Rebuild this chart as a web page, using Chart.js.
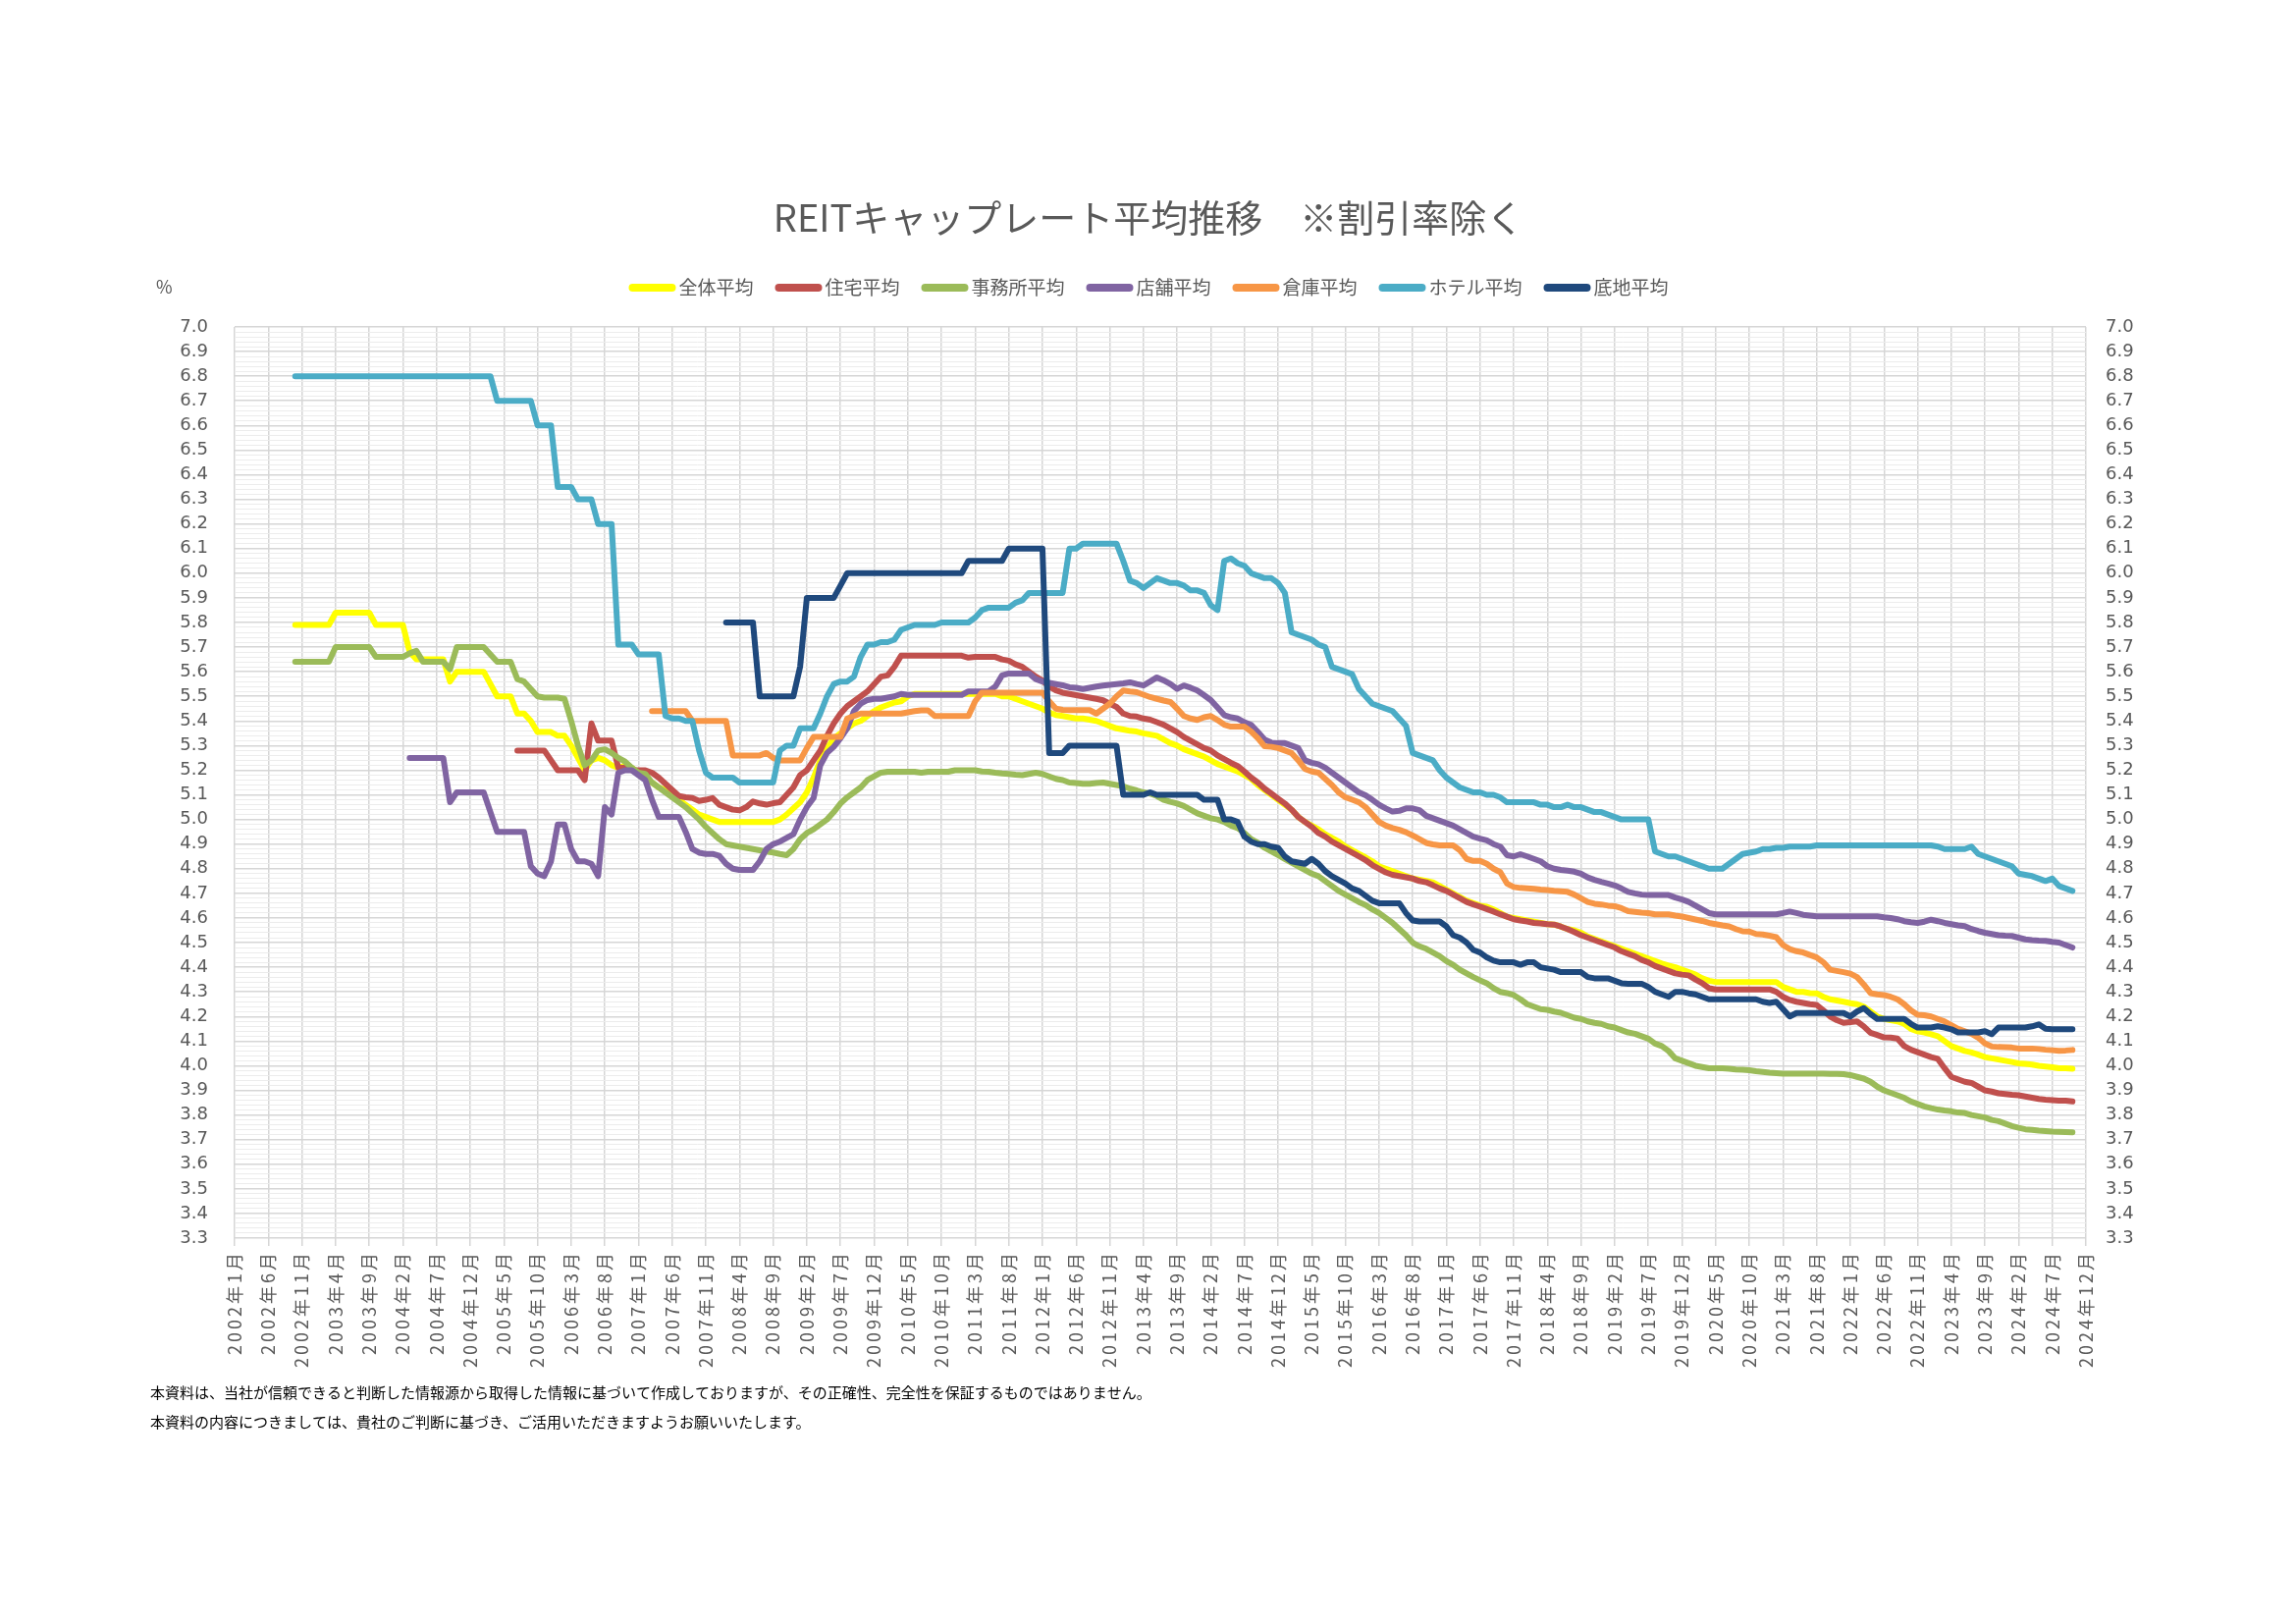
<!DOCTYPE html>
<html lang="ja">
<head>
<meta charset="utf-8">
<title>REITキャップレート平均推移</title>
<script src="https://cdn.jsdelivr.net/npm/chart.js@4.4.1/dist/chart.umd.min.js"></script>
<style>
  html, body { margin: 0; padding: 0; background: #fff; }
  #wrap { width: 2339px; height: 1653px; }
</style>
</head>
<body>
<div id="wrap"><canvas id="capChart" width="2339" height="1653"></canvas></div>
<script>
// months on the x axis: 2002年1月 .. 2024年12月
const firstYear = 2002;
const lastYear = 2024;
const months = [];
for (let y = firstYear; y <= lastYear; y++) {
    for (let m = 1; m <= 12; m++) {
        months.push(y + '年' + m + '月');
    }
}

const seriesNames = ['全体平均', '住宅平均', '事務所平均', '店舗平均', '倉庫平均', 'ホテル平均', '底地平均'];
const seriesColors = ['#FFFF00', '#C0504D', '#9BBB59', '#8064A2', '#F79646', '#4BACC6', '#1F497D'];

// one row per year, Jan..Dec
const allAvg = [
    null, null, null, null, null, null, null, null, null, 5.79, 5.79, 5.79,
    5.79, 5.79, 5.79, 5.84, 5.84, 5.84, 5.84, 5.84, 5.84, 5.79, 5.79, 5.79,
    5.79, 5.79, 5.68, 5.65, 5.65, 5.65, 5.65, 5.65, 5.56, 5.60, 5.60, 5.60,
    5.60, 5.60, 5.55, 5.50, 5.50, 5.50, 5.43, 5.43, 5.40, 5.355, 5.355, 5.355,
    5.34, 5.34, 5.30, 5.25, 5.20, 5.24, 5.25, 5.24, 5.22, 5.21, 5.22, 5.21,
    5.19, 5.17, 5.15, 5.13, 5.12, 5.10, 5.08, 5.06, 5.04, 5.02, 5.01, 5.00,
    4.99, 4.99, 4.99, 4.99, 4.99, 4.99, 4.99, 4.99, 4.99, 5.00, 5.02, 5.045,
    5.07, 5.11, 5.17, 5.24, 5.29, 5.33, 5.35, 5.37, 5.39, 5.40, 5.42, 5.44,
    5.455, 5.465, 5.475, 5.48, 5.50, 5.51, 5.51, 5.51, 5.51, 5.51, 5.51, 5.51,
    5.51, 5.51, 5.51, 5.51, 5.51, 5.51, 5.50, 5.50, 5.49, 5.48, 5.47, 5.46,
    5.45, 5.435, 5.424, 5.42, 5.415, 5.41, 5.41, 5.405, 5.40, 5.39, 5.38, 5.37,
    5.365, 5.36, 5.357, 5.35, 5.345, 5.34, 5.325, 5.31, 5.30, 5.285, 5.275, 5.265,
    5.255, 5.24, 5.225, 5.215, 5.205, 5.195, 5.18, 5.165, 5.14, 5.12, 5.10, 5.08,
    5.06, 5.04, 5.01, 4.99, 4.975, 4.96, 4.94, 4.925, 4.91, 4.89, 4.875, 4.86,
    4.846, 4.83, 4.81, 4.80, 4.79, 4.78, 4.77, 4.76, 4.755, 4.75, 4.745, 4.73,
    4.715, 4.70, 4.685, 4.67, 4.66, 4.65, 4.646, 4.635, 4.62, 4.605, 4.60, 4.595,
    4.59, 4.585, 4.58, 4.575, 4.573, 4.565, 4.555, 4.55, 4.54, 4.525, 4.515, 4.505,
    4.495, 4.485, 4.475, 4.465, 4.455, 4.445, 4.435, 4.425, 4.415, 4.407, 4.40, 4.39,
    4.38, 4.37, 4.355, 4.345, 4.34, 4.34, 4.34, 4.34, 4.34, 4.34, 4.34, 4.34,
    4.34, 4.34, 4.32, 4.31, 4.30, 4.30, 4.295, 4.294, 4.28, 4.27, 4.265, 4.26,
    4.254, 4.25, 4.24, 4.22, 4.20, 4.19, 4.185, 4.18, 4.17, 4.15, 4.14, 4.135,
    4.128, 4.12, 4.10, 4.08, 4.07, 4.06, 4.054, 4.045, 4.035, 4.03, 4.025, 4.02,
    4.015, 4.01, 4.008, 4.005, 4.00, 3.997, 3.994, 3.99, 3.99, 3.988, null, null
];

const residential = [
    null, null, null, null, null, null, null, null, null, null, null, null,
    null, null, null, null, null, null, null, null, null, null, null, null,
    null, null, null, null, null, null, null, null, null, null, null, null,
    null, null, null, null, null, null, 5.28, 5.28, 5.28, 5.28, 5.28, 5.24,
    5.20, 5.20, 5.20, 5.20, 5.16, 5.39, 5.32, 5.32, 5.32, 5.21, 5.21, 5.20,
    5.20, 5.20, 5.19, 5.17, 5.145, 5.12, 5.095, 5.09, 5.087, 5.075, 5.08, 5.087,
    5.06, 5.05, 5.04, 5.037, 5.05, 5.073, 5.065, 5.06, 5.066, 5.07, 5.10, 5.13,
    5.18, 5.20, 5.24, 5.28, 5.34, 5.39, 5.43, 5.46, 5.48, 5.50, 5.52, 5.55,
    5.58, 5.585, 5.62, 5.665, 5.665, 5.665, 5.665, 5.665, 5.665, 5.665, 5.665, 5.665,
    5.665, 5.657, 5.66, 5.66, 5.66, 5.66, 5.65, 5.645, 5.63, 5.62, 5.60, 5.58,
    5.564, 5.54, 5.524, 5.515, 5.51, 5.505, 5.50, 5.495, 5.49, 5.484, 5.47, 5.457,
    5.43, 5.42, 5.418, 5.41, 5.405, 5.395, 5.385, 5.37, 5.355, 5.335, 5.32, 5.305,
    5.29, 5.28, 5.26, 5.245, 5.23, 5.217, 5.195, 5.17, 5.15, 5.125, 5.105, 5.085,
    5.065, 5.04, 5.01, 4.99, 4.97, 4.945, 4.93, 4.91, 4.895, 4.88, 4.865, 4.85,
    4.835, 4.815, 4.80, 4.785, 4.775, 4.77, 4.765, 4.76, 4.75, 4.745, 4.733, 4.72,
    4.71, 4.695, 4.68, 4.665, 4.655, 4.646, 4.636, 4.626, 4.615, 4.605, 4.595, 4.59,
    4.586, 4.58, 4.578, 4.575, 4.573, 4.565, 4.555, 4.543, 4.53, 4.52, 4.51, 4.50,
    4.49, 4.48, 4.465, 4.455, 4.445, 4.43, 4.42, 4.405, 4.395, 4.385, 4.375, 4.37,
    4.367, 4.35, 4.335, 4.315, 4.31, 4.31, 4.31, 4.31, 4.31, 4.31, 4.31, 4.31,
    4.31, 4.30, 4.28, 4.267, 4.26, 4.255, 4.25, 4.247, 4.225, 4.20, 4.185, 4.174,
    4.177, 4.18, 4.16, 4.134, 4.125, 4.115, 4.114, 4.11, 4.08, 4.065, 4.055, 4.045,
    4.035, 4.028, 3.99, 3.955, 3.945, 3.935, 3.93, 3.915, 3.90, 3.895, 3.888, 3.885,
    3.882, 3.88, 3.875, 3.87, 3.865, 3.862, 3.86, 3.858, 3.858, 3.855, null, null
];

const office = [
    null, null, null, null, null, null, null, null, null, 5.64, 5.64, 5.64,
    5.64, 5.64, 5.64, 5.70, 5.70, 5.70, 5.70, 5.70, 5.70, 5.66, 5.66, 5.66,
    5.66, 5.66, 5.675, 5.685, 5.64, 5.64, 5.64, 5.64, 5.61, 5.70, 5.70, 5.70,
    5.70, 5.70, 5.67, 5.64, 5.64, 5.64, 5.57, 5.56, 5.53, 5.50, 5.495, 5.495,
    5.495, 5.49, 5.40, 5.30, 5.22, 5.24, 5.28, 5.285, 5.27, 5.25, 5.235, 5.21,
    5.19, 5.185, 5.15, 5.13, 5.11, 5.09, 5.07, 5.05, 5.025, 5.00, 4.97, 4.945,
    4.92, 4.90, 4.895, 4.89, 4.885, 4.88, 4.875, 4.87, 4.866, 4.86, 4.855, 4.88,
    4.92, 4.945, 4.96, 4.98, 5.00, 5.03, 5.065, 5.09, 5.11, 5.13, 5.16, 5.175,
    5.19, 5.194, 5.194, 5.194, 5.194, 5.194, 5.19, 5.194, 5.194, 5.194, 5.194, 5.20,
    5.20, 5.20, 5.20, 5.195, 5.194, 5.19, 5.187, 5.185, 5.182, 5.18, 5.185, 5.19,
    5.185, 5.175, 5.165, 5.16, 5.15, 5.148, 5.145, 5.145, 5.148, 5.15, 5.145, 5.14,
    5.135, 5.125, 5.118, 5.11, 5.105, 5.095, 5.08, 5.072, 5.065, 5.055, 5.04, 5.025,
    5.015, 5.005, 5.00, 4.99, 4.975, 4.965, 4.945, 4.92, 4.905, 4.885, 4.87, 4.855,
    4.84, 4.825, 4.81, 4.795, 4.78, 4.77, 4.75, 4.73, 4.71, 4.695, 4.68, 4.665,
    4.653, 4.635, 4.62, 4.60, 4.58, 4.555, 4.53, 4.50, 4.485, 4.475, 4.46, 4.445,
    4.425, 4.41, 4.39, 4.375, 4.36, 4.347, 4.335, 4.315, 4.30, 4.295, 4.287, 4.27,
    4.25, 4.24, 4.23, 4.227, 4.22, 4.215, 4.205, 4.195, 4.19, 4.18, 4.174, 4.17,
    4.16, 4.155, 4.145, 4.135, 4.13, 4.12, 4.11, 4.09, 4.08, 4.06, 4.03, 4.02,
    4.01, 4.00, 3.995, 3.99, 3.99, 3.99, 3.988, 3.985, 3.984, 3.982, 3.978, 3.975,
    3.972, 3.97, 3.968, 3.968, 3.968, 3.968, 3.968, 3.968, 3.968, 3.967, 3.967, 3.966,
    3.962, 3.955, 3.948, 3.935, 3.915, 3.90, 3.89, 3.88, 3.87, 3.855, 3.845, 3.835,
    3.828, 3.822, 3.818, 3.815, 3.81, 3.808, 3.80, 3.795, 3.79, 3.78, 3.775, 3.765,
    3.755, 3.748, 3.742, 3.74, 3.737, 3.735, 3.733, 3.732, 3.731, 3.73, null, null
];

const retail = [
    null, null, null, null, null, null, null, null, null, null, null, null,
    null, null, null, null, null, null, null, null, null, null, null, null,
    null, null, 5.25, 5.25, 5.25, 5.25, 5.25, 5.25, 5.07, 5.11, 5.11, 5.11,
    5.11, 5.11, 5.03, 4.95, 4.95, 4.95, 4.95, 4.95, 4.81, 4.78, 4.77, 4.83,
    4.98, 4.98, 4.88, 4.83, 4.83, 4.82, 4.77, 5.05, 5.02, 5.19, 5.20, 5.20,
    5.18, 5.16, 5.08, 5.01, 5.01, 5.01, 5.01, 4.95, 4.88, 4.865, 4.86, 4.86,
    4.852, 4.82, 4.80, 4.795, 4.795, 4.795, 4.83, 4.88, 4.90, 4.91, 4.925, 4.94,
    5.00, 5.05, 5.087, 5.22, 5.27, 5.295, 5.33, 5.37, 5.44, 5.47, 5.485, 5.49,
    5.49, 5.495, 5.50, 5.51, 5.506, 5.506, 5.506, 5.506, 5.506, 5.506, 5.506, 5.506,
    5.506, 5.52, 5.52, 5.52, 5.52, 5.54, 5.585, 5.593, 5.593, 5.593, 5.593, 5.57,
    5.56, 5.555, 5.55, 5.545, 5.537, 5.535, 5.53, 5.535, 5.54, 5.544, 5.547, 5.55,
    5.553, 5.557, 5.55, 5.544, 5.56, 5.577, 5.565, 5.55, 5.53, 5.544, 5.535, 5.524,
    5.505, 5.485, 5.455, 5.424, 5.415, 5.41, 5.395, 5.384, 5.355, 5.324, 5.312, 5.31,
    5.31, 5.30, 5.29, 5.24, 5.23, 5.224, 5.21, 5.19, 5.17, 5.15, 5.13, 5.11,
    5.098, 5.08, 5.06, 5.045, 5.032, 5.035, 5.045, 5.045, 5.038, 5.015, 5.005, 4.995,
    4.985, 4.975, 4.96, 4.945, 4.93, 4.922, 4.915, 4.90, 4.89, 4.855, 4.85, 4.859,
    4.85, 4.84, 4.83, 4.81, 4.80, 4.795, 4.792, 4.788, 4.78, 4.765, 4.755, 4.747,
    4.74, 4.732, 4.72, 4.706, 4.70, 4.695, 4.693, 4.693, 4.693, 4.693, 4.683, 4.675,
    4.665, 4.65, 4.635, 4.62, 4.615, 4.615, 4.615, 4.615, 4.615, 4.615, 4.615, 4.615,
    4.615, 4.615, 4.62, 4.626, 4.62, 4.613, 4.61, 4.607, 4.607, 4.607, 4.607, 4.607,
    4.607, 4.607, 4.607, 4.607, 4.607, 4.603, 4.60, 4.595, 4.587, 4.583, 4.58, 4.585,
    4.593, 4.587, 4.58, 4.575, 4.57, 4.567, 4.555, 4.547, 4.54, 4.535, 4.53, 4.528,
    4.527, 4.52, 4.513, 4.51, 4.508, 4.507, 4.503, 4.50, 4.49, 4.48, null, null
];

const logistics = [
    null, null, null, null, null, null, null, null, null, null, null, null,
    null, null, null, null, null, null, null, null, null, null, null, null,
    null, null, null, null, null, null, null, null, null, null, null, null,
    null, null, null, null, null, null, null, null, null, null, null, null,
    null, null, null, null, null, null, null, null, null, null, null, null,
    null, null, 5.44, 5.44, 5.44, 5.44, 5.44, 5.44, 5.40, 5.40, 5.40, 5.40,
    5.40, 5.40, 5.26, 5.26, 5.26, 5.26, 5.26, 5.27, 5.25, 5.24, 5.24, 5.24,
    5.24, 5.29, 5.335, 5.335, 5.335, 5.335, 5.335, 5.41, 5.42, 5.43, 5.43, 5.43,
    5.43, 5.43, 5.43, 5.43, 5.435, 5.44, 5.443, 5.443, 5.42, 5.42, 5.42, 5.42,
    5.42, 5.42, 5.48, 5.515, 5.515, 5.515, 5.515, 5.515, 5.515, 5.515, 5.515, 5.515,
    5.515, 5.48, 5.45, 5.445, 5.444, 5.444, 5.444, 5.444, 5.43, 5.45, 5.47, 5.50,
    5.524, 5.52, 5.517, 5.507, 5.497, 5.49, 5.483, 5.477, 5.45, 5.42, 5.41, 5.404,
    5.415, 5.42, 5.404, 5.385, 5.377, 5.377, 5.377, 5.357, 5.33, 5.297, 5.295, 5.29,
    5.28, 5.27, 5.24, 5.205, 5.195, 5.19, 5.165, 5.14, 5.11, 5.09, 5.08, 5.07,
    5.05, 5.02, 4.99, 4.975, 4.965, 4.958, 4.948, 4.935, 4.92, 4.905, 4.899, 4.895,
    4.895, 4.895, 4.875, 4.84, 4.832, 4.832, 4.82, 4.80, 4.786, 4.74, 4.726, 4.722,
    4.72, 4.718, 4.715, 4.713, 4.71, 4.708, 4.706, 4.695, 4.68, 4.665, 4.658, 4.655,
    4.65, 4.648, 4.64, 4.628, 4.625, 4.622, 4.62, 4.615, 4.615, 4.615, 4.61, 4.606,
    4.60, 4.594, 4.588, 4.58, 4.575, 4.57, 4.566, 4.555, 4.546, 4.545, 4.535, 4.533,
    4.528, 4.522, 4.49, 4.474, 4.465, 4.46, 4.45, 4.44, 4.42, 4.39, 4.385, 4.38,
    4.374, 4.36, 4.33, 4.295, 4.29, 4.287, 4.28, 4.27, 4.25, 4.225, 4.207, 4.205,
    4.20, 4.19, 4.18, 4.165, 4.15, 4.14, 4.13, 4.114, 4.09, 4.078, 4.076, 4.075,
    4.074, 4.07, 4.07, 4.07, 4.068, 4.065, 4.063, 4.061, 4.062, 4.064, null, null
];

const hotel = [
    null, null, null, null, null, null, null, null, null, 6.80, 6.80, 6.80,
    6.80, 6.80, 6.80, 6.80, 6.80, 6.80, 6.80, 6.80, 6.80, 6.80, 6.80, 6.80,
    6.80, 6.80, 6.80, 6.80, 6.80, 6.80, 6.80, 6.80, 6.80, 6.80, 6.80, 6.80,
    6.80, 6.80, 6.80, 6.70, 6.70, 6.70, 6.70, 6.70, 6.70, 6.60, 6.60, 6.60,
    6.35, 6.35, 6.35, 6.30, 6.30, 6.30, 6.20, 6.20, 6.20, 5.71, 5.71, 5.71,
    5.67, 5.67, 5.67, 5.67, 5.42, 5.41, 5.41, 5.40, 5.40, 5.28, 5.19, 5.17,
    5.17, 5.17, 5.17, 5.15, 5.15, 5.15, 5.15, 5.15, 5.15, 5.28, 5.30, 5.30,
    5.37, 5.37, 5.37, 5.43, 5.50, 5.55, 5.56, 5.56, 5.58, 5.66, 5.71, 5.71,
    5.72, 5.72, 5.73, 5.77, 5.78, 5.79, 5.79, 5.79, 5.79, 5.80, 5.80, 5.80,
    5.80, 5.80, 5.82, 5.85, 5.86, 5.86, 5.86, 5.86, 5.88, 5.89, 5.92, 5.92,
    5.92, 5.92, 5.92, 5.92, 6.10, 6.10, 6.12, 6.12, 6.12, 6.12, 6.12, 6.12,
    6.05, 5.97, 5.96, 5.94, 5.96, 5.98, 5.97, 5.96, 5.96, 5.95, 5.93, 5.93,
    5.92, 5.87, 5.85, 6.05, 6.06, 6.04, 6.03, 6.00, 5.99, 5.98, 5.98, 5.96,
    5.92, 5.76, 5.75, 5.74, 5.73, 5.71, 5.70, 5.62, 5.61, 5.60, 5.59, 5.53,
    5.50, 5.47, 5.46, 5.45, 5.44, 5.41, 5.38, 5.27, 5.26, 5.25, 5.24, 5.20,
    5.17, 5.15, 5.13, 5.12, 5.11, 5.11, 5.10, 5.10, 5.09, 5.07, 5.07, 5.07,
    5.07, 5.07, 5.06, 5.06, 5.05, 5.05, 5.06, 5.05, 5.05, 5.04, 5.03, 5.03,
    5.02, 5.01, 5.00, 5.00, 5.00, 5.00, 5.00, 4.87, 4.86, 4.85, 4.85, 4.84,
    4.83, 4.82, 4.81, 4.80, 4.80, 4.80, 4.82, 4.84, 4.86, 4.865, 4.87, 4.88,
    4.88, 4.885, 4.885, 4.89, 4.89, 4.89, 4.89, 4.895, 4.895, 4.895, 4.895, 4.895,
    4.895, 4.895, 4.895, 4.895, 4.895, 4.895, 4.895, 4.895, 4.895, 4.895, 4.895, 4.895,
    4.895, 4.89, 4.88, 4.88, 4.88, 4.88, 4.89, 4.86, 4.85, 4.84, 4.83, 4.82,
    4.81, 4.78, 4.775, 4.77, 4.76, 4.75, 4.76, 4.73, 4.72, 4.71, null, null
];

const leasehold = [
    null, null, null, null, null, null, null, null, null, null, null, null,
    null, null, null, null, null, null, null, null, null, null, null, null,
    null, null, null, null, null, null, null, null, null, null, null, null,
    null, null, null, null, null, null, null, null, null, null, null, null,
    null, null, null, null, null, null, null, null, null, null, null, null,
    null, null, null, null, null, null, null, null, null, null, null, null,
    null, 5.80, 5.80, 5.80, 5.80, 5.80, 5.50, 5.50, 5.50, 5.50, 5.50, 5.50,
    5.62, 5.90, 5.90, 5.90, 5.90, 5.90, 5.95, 6.00, 6.00, 6.00, 6.00, 6.00,
    6.00, 6.00, 6.00, 6.00, 6.00, 6.00, 6.00, 6.00, 6.00, 6.00, 6.00, 6.00,
    6.00, 6.05, 6.05, 6.05, 6.05, 6.05, 6.05, 6.10, 6.10, 6.10, 6.10, 6.10,
    6.10, 5.27, 5.27, 5.27, 5.30, 5.30, 5.30, 5.30, 5.30, 5.30, 5.30, 5.30,
    5.10, 5.10, 5.10, 5.10, 5.11, 5.10, 5.10, 5.10, 5.10, 5.10, 5.10, 5.10,
    5.08, 5.08, 5.08, 5.00, 5.00, 4.99, 4.93, 4.91, 4.90, 4.90, 4.89, 4.885,
    4.85, 4.83, 4.825, 4.82, 4.84, 4.82, 4.79, 4.77, 4.755, 4.74, 4.72, 4.71,
    4.69, 4.67, 4.66, 4.66, 4.66, 4.66, 4.62, 4.59, 4.586, 4.586, 4.586, 4.586,
    4.566, 4.53, 4.52, 4.50, 4.47, 4.46, 4.44, 4.427, 4.42, 4.42, 4.42, 4.41,
    4.42, 4.42, 4.40, 4.395, 4.39, 4.38, 4.38, 4.38, 4.38, 4.36, 4.355, 4.355,
    4.355, 4.345, 4.335, 4.333, 4.333, 4.333, 4.32, 4.30, 4.29, 4.28, 4.30, 4.30,
    4.294, 4.29, 4.28, 4.27, 4.27, 4.27, 4.27, 4.27, 4.27, 4.27, 4.27, 4.26,
    4.255, 4.26, 4.23, 4.20, 4.214, 4.214, 4.214, 4.214, 4.214, 4.214, 4.214, 4.214,
    4.20, 4.22, 4.234, 4.21, 4.19, 4.19, 4.19, 4.19, 4.19, 4.17, 4.155, 4.155,
    4.155, 4.16, 4.155, 4.148, 4.135, 4.135, 4.135, 4.135, 4.14, 4.128, 4.155, 4.155,
    4.155, 4.155, 4.155, 4.16, 4.168, 4.15, 4.148, 4.148, 4.148, 4.148, null, null
];

const seriesData = [allAvg, residential, office, retail, logistics, hotel, leasehold];

// y axis: 3.3 .. 7.0, labelled every 0.1, light lines every 0.02
const yMin = 3.3;
const yMax = 7.0;
const yMinorStep = 0.02;

const titleText = 'REITキャップレート平均推移　※割引率除く';
const notes = [
    '本資料は、当社が信頼できると判断した情報源から取得した情報に基づいて作成しておりますが、その正確性、完全性を保証するものではありません。',
    '本資料の内容につきましては、貴社のご判断に基づき、ご活用いただきますようお願いいたします。'
];

const jpFont = '"Noto Sans CJK JP", "Noto Sans", sans-serif';
const textGray = '#595959';

function isMajor(v) {
    return Math.abs(v * 10 - Math.round(v * 10)) < 1e-6;
}

// the month labels are spaced out a little; the y labels are drawn after
// the datasets (ticks.z = 1) so the spacing is switched off before them
const labelSpacing = {
    id: 'labelSpacing',
    beforeDraw(chart) {
        chart.ctx.letterSpacing = '3px';
    },
    beforeDatasetsDraw(chart) {
        chart.ctx.letterSpacing = '0px';
    }
};

// title, legend, unit and footnotes
const pageText = {
    id: 'pageText',
    beforeDraw(chart) {
        const ctx = chart.ctx;
        ctx.save();
        ctx.fillStyle = '#ffffff';
        ctx.fillRect(0, 0, chart.width, chart.height);
        ctx.restore();
    },
    afterDraw(chart) {
        const ctx = chart.ctx;
        ctx.save();
        ctx.letterSpacing = '0px';

        ctx.fillStyle = textGray;
        ctx.textBaseline = 'middle';
        ctx.textAlign = 'center';
        ctx.font = '38px ' + jpFont;
        ctx.fillText(titleText, 1170, 222);

        ctx.textAlign = 'left';
        ctx.font = '18px ' + jpFont;
        ctx.fillText('%', 159, 292);

        // legend
        ctx.font = '19px ' + jpFont;
        const sampleLen = 48;
        const itemGap = 22;
        let total = 0;
        const widths = seriesNames.map(function(name) {
            const w = sampleLen + 3 + ctx.measureText(name).width;
            total += w;
            return w;
        });
        total += itemGap * (seriesNames.length - 1);
        let x = 1170 - total / 2;
        const ly = 293;
        seriesNames.forEach(function(name, i) {
            ctx.strokeStyle = seriesColors[i];
            ctx.lineWidth = 8;
            ctx.lineCap = 'round';
            ctx.beginPath();
            ctx.moveTo(x + 4, ly);
            ctx.lineTo(x + sampleLen - 4, ly);
            ctx.stroke();
            ctx.fillStyle = textGray;
            ctx.fillText(name, x + sampleLen + 3, ly);
            x += widths[i] + itemGap;
        });

        ctx.fillStyle = '#000000';
        ctx.font = '15px ' + jpFont;
        ctx.fillText(notes[0], 153, 1418);
        ctx.fillText(notes[1], 153, 1448);

        ctx.restore();
    }
};

const yTicks = {
    stepSize: yMinorStep,
    autoSkip: false,
    z: 1,
    color: textGray,
    font: { family: '"DejaVu Sans", sans-serif', size: 18 },
    callback: function(value) {
        return isMajor(value) ? value.toFixed(1) : '';
    }
};

const ctx = document.getElementById('capChart').getContext('2d');
new Chart(ctx, {
    type: 'line',
    data: {
        labels: months,
        datasets: seriesData.map(function(values, i) {
            return {
                label: seriesNames[i],
                data: values,
                borderColor: seriesColors[i],
                backgroundColor: seriesColors[i],
                borderWidth: 6,
                borderCapStyle: 'round',
                borderJoinStyle: 'round',
                pointRadius: 0,
                tension: 0,
                fill: false,
                order: seriesData.length - i,
                yAxisID: 'y'
            };
        })
    },
    options: {
        responsive: false,
        animation: false,
        devicePixelRatio: 1,
        layout: {
            padding: { top: 333, bottom: 242, left: 0, right: 0 }
        },
        plugins: {
            legend: { display: false },
            title: { display: false },
            tooltip: { enabled: false }
        },
        scales: {
            x: {
                type: 'category',
                offset: false,
                afterFit: function(scale) { scale.height = 150; },
                border: { display: false },
                grid: {
                    drawTicks: true,
                    tickLength: 8,
                    lineWidth: 1.5,
                    color: function(c) { return c.index % 5 === 0 ? '#d6d6d6' : 'rgba(0,0,0,0)'; },
                    tickColor: function(c) { return c.index % 5 === 0 ? '#d6d6d6' : 'rgba(0,0,0,0)'; }
                },
                ticks: {
                    autoSkip: false,
                    minRotation: 90,
                    maxRotation: 90,
                    padding: 4,
                    color: textGray,
                    font: { family: jpFont, size: 18 },
                    callback: function(value, index) {
                        return index % 5 === 0 ? this.getLabelForValue(value) : '';
                    }
                }
            },
            y: {
                type: 'linear',
                position: 'left',
                min: yMin,
                max: yMax,
                afterFit: function(scale) { scale.width = 239; },
                border: { display: false },
                grid: {
                    drawTicks: false,
                    color: function(c) { return isMajor(c.tick.value) ? '#d6d6d6' : '#ececec'; },
                    lineWidth: function(c) { return isMajor(c.tick.value) ? 1.5 : 1; }
                },
                ticks: Object.assign({ padding: 27 }, yTicks)
            },
            y2: {
                type: 'linear',
                position: 'right',
                min: yMin,
                max: yMax,
                afterFit: function(scale) { scale.width = 214; },
                border: { display: false },
                grid: { display: false, drawTicks: false },
                ticks: Object.assign({ padding: 20 }, yTicks)
            }
        }
    },
    plugins: [labelSpacing, pageText]
});
</script>
</body>
</html>
